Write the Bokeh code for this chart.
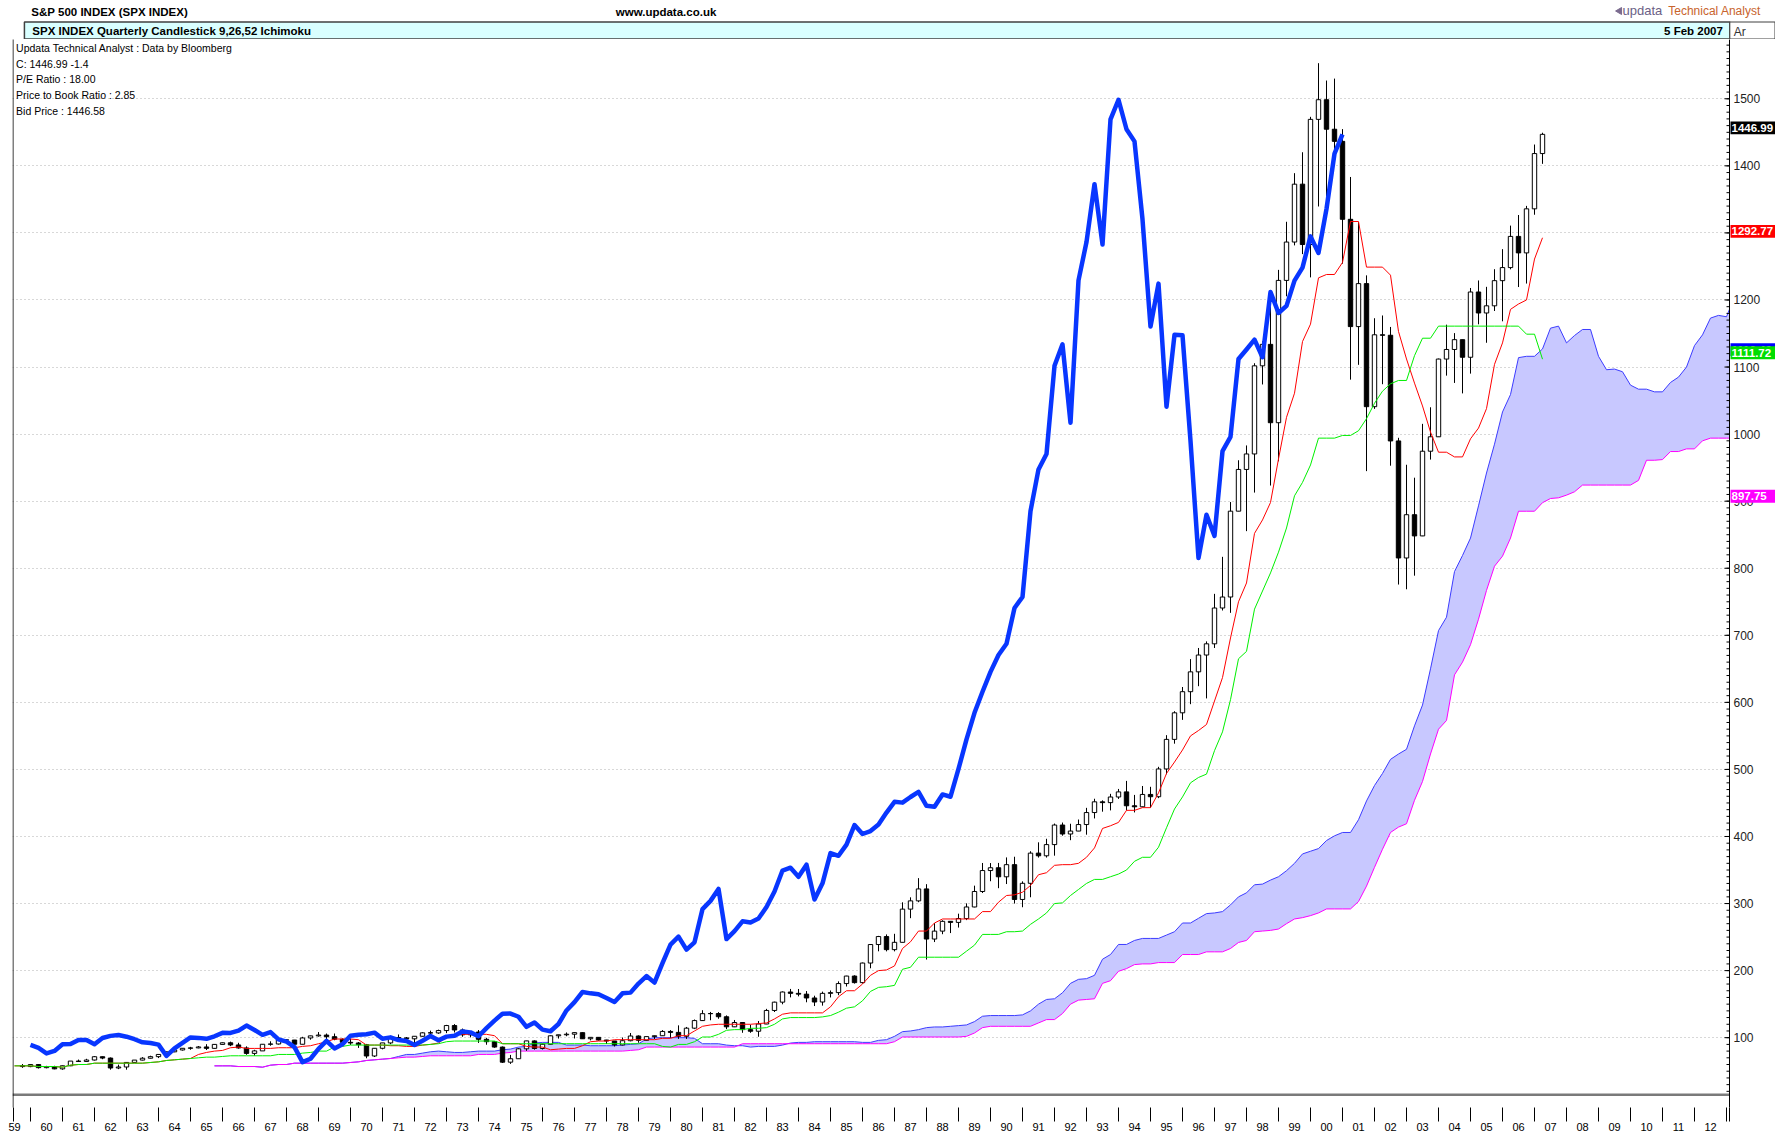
import numpy as np
from bokeh.plotting import figure
from bokeh.models import Range1d, FixedTicker
from bokeh.layouts import column
from bokeh.embed import file_html
from bokeh.resources import INLINE
from bokeh.core.properties import value

FONT = "Liberation Sans"

# ---- quarterly candles, 1959Q3 .. 2007Q1 (quarter index 2 .. 192, 1959Q1 = 0) ----
opens = [58.5,56.9,59.9,55.3,56.9,53.5,58.1,65.1,64.6,66.7,71.6,69.6,54.8,56.3,63.1,66.6,69.4,71.7,75.0,78.9,81.7,84.2,
84.8,86.2,84.1,90.0,92.4,89.2,84.7,76.6,80.3,90.2,90.6,96.7,96.5,90.2,99.6,102.7,103.9,101.5,97.7,93.1,92.1,89.6,72.7,84.2,
92.2,100.3,99.7,98.3,102.1,107.2,107.1,110.6,118.1,111.5,104.3,108.4,97.6,94.0,86.0,63.5,68.6,83.4,95.2,83.9,90.2,102.8,104.3,105.2,
107.5,98.4,100.5,96.5,95.1,89.2,95.5,102.5,96.1,101.6,102.9,109.3,107.9,102.1,114.2,125.5,135.8,136.0,131.2,116.2,122.6,112.0,109.6,120.4,
140.6,153.0,168.1,166.1,164.9,159.2,153.2,166.1,167.2,180.7,191.9,182.1,211.3,238.9,250.8,231.3,242.2,291.7,304.0,321.8,247.1,258.9,273.5,271.9,
277.7,294.9,318.0,349.2,353.4,339.9,358.0,306.1,330.2,375.2,371.2,387.9,417.1,403.7,408.1,417.8,435.7,451.7,450.5,458.9,466.5,445.8,444.3,462.7,
459.3,500.7,544.8,584.4,615.9,645.5,670.6,687.3,740.7,757.1,885.1,947.3,970.4,1101.8,1133.8,1017.0,1229.2,1286.4,1372.7,1282.7,1469.3,1498.6,1454.6,1436.5,
1320.3,1160.3,1224.4,1040.9,1148.1,1147.4,989.8,815.3,879.8,848.2,974.5,996.0,1111.9,1126.2,1140.8,1114.6,1211.9,1180.6,1191.3,1228.8,1248.3,1294.8,1270.2,1335.9,1418.3]
highs = [60.7,60.0,60.4,58.0,58.1,58.4,65.1,67.4,68.5,72.6,71.9,70.5,59.8,63.4,66.7,71.0,73.1,75.0,79.1,81.7,84.2,86.3,
87.6,90.3,90.0,92.8,94.1,92.4,87.1,82.0,90.3,94.6,97.6,97.6,96.6,101.3,102.9,108.4,106.2,106.2,98.9,98.3,93.5,90.7,84.3,92.2,
101.0,104.8,101.0,102.1,108.2,110.5,112.0,119.1,120.2,113.6,109.9,111.4,99.8,94.0,86.9,74.3,84.6,95.2,96.0,91.2,103.4,104.3,107.8,107.8,
107.9,101.0,101.0,96.8,95.1,100.3,107.0,103.4,101.6,103.0,111.3,111.3,118.4,116.0,127.1,141.0,138.4,138.1,133.2,126.4,123.0,119.3,124.9,143.0,
153.7,169.0,172.7,172.6,169.5,162.6,168.7,170.4,184.0,192.3,193.0,212.0,239.0,251.8,254.0,254.9,301.9,309.3,337.9,328.9,271.1,275.1,274.0,284.9,
300.3,326.7,360.5,360.4,360.6,368.8,369.8,333.1,378.0,391.3,396.6,419.3,420.8,419.0,425.3,442.7,456.3,453.9,463.6,470.9,482.9,462.0,475.3,474.1,
503.9,551.1,586.8,622.9,664.5,681.1,690.9,761.8,817.0,898.7,961.0,983.1,1105.7,1138.5,1190.6,1244.9,1316.6,1389.1,1420.3,1473.1,1553.1,1527.2,1530.1,1454.8,
1383.4,1316.0,1236.7,1172.8,1176.9,1159.8,994.5,954.3,935.0,1015.3,1040.0,1112.6,1163.2,1150.6,1140.8,1217.9,1229.1,1219.6,1245.9,1275.8,1310.9,1326.7,1340.3,1431.8,1449.4]
lows = [55.1,56.0,54.0,54.3,52.9,52.2,57.6,64.2,64.4,66.0,67.9,52.3,53.1,52.3,62.6,66.2,68.9,69.6,75.0,78.4,80.8,82.0,
84.2,81.6,83.9,89.6,87.4,83.6,74.5,73.2,80.2,88.0,89.8,91.5,87.7,90.1,97.0,101.6,95.8,96.2,89.5,89.2,84.8,69.3,71.2,82.6,
90.2,98.7,93.5,90.2,101.7,104.7,105.8,106.8,107.8,101.4,100.5,92.2,89.5,85.0,62.3,60.9,68.6,80.4,82.1,82.4,90.0,98.7,102.2,98.8,
98.4,96.0,95.7,90.7,86.9,88.5,94.6,92.5,96.1,98.1,102.5,99.9,98.2,98.2,112.8,124.9,126.0,128.2,112.8,115.8,107.3,107.3,101.4,120.2,
138.3,149.8,160.1,161.6,152.8,147.2,147.8,160.0,163.4,176.3,180.7,180.6,203.5,228.8,228.7,228.7,242.2,278.2,302.0,216.5,242.6,254.3,256.0,264.2,
275.3,294.4,315.7,333.3,322.9,329.1,300.0,294.5,309.4,368.6,368.6,371.4,401.2,394.5,408.0,402.7,426.9,437.0,438.9,456.0,438.9,435.9,443.7,442.9,
457.2,492.7,538.4,573.9,597.3,624.1,605.9,681.1,737.0,733.5,885.0,855.3,912.8,1074.0,923.3,959.4,1205.5,1281.4,1268.4,1233.7,1339.4,1339.4,1419.4,1254.1,
1081.2,1103.3,944.8,1037.6,1074.4,952.9,775.7,768.6,788.9,847.9,962.0,996.0,1087.2,1076.3,1060.7,1090.2,1163.7,1136.2,1183.6,1168.2,1245.7,1219.3,1224.5,1327.1,1403.0]
closes = [56.9,59.9,55.3,56.9,53.5,58.1,65.1,64.6,66.7,71.6,69.6,54.8,56.3,63.1,66.6,69.4,71.7,75.0,78.9,81.7,84.2,84.8,
86.2,84.1,90.0,92.4,89.2,84.7,76.6,80.3,90.2,90.6,96.7,96.5,90.2,99.6,102.7,103.9,101.5,97.7,93.1,92.1,89.6,72.7,84.2,92.2,
100.3,99.7,98.3,102.1,107.2,107.1,110.6,118.1,111.5,104.3,108.4,97.6,94.0,86.0,63.5,68.6,83.4,95.2,83.9,90.2,102.8,104.3,105.2,107.5,
98.4,100.5,96.5,95.1,89.2,95.5,102.5,96.1,101.6,102.9,109.3,107.9,102.1,114.2,125.5,135.8,136.0,131.2,116.2,122.6,112.0,109.6,120.4,140.6,
153.0,168.1,166.1,164.9,159.2,153.2,166.1,167.2,180.7,191.9,182.1,211.3,238.9,250.8,231.3,242.2,291.7,304.0,321.8,247.1,258.9,273.5,271.9,277.7,
294.9,318.0,349.2,353.4,339.9,358.0,306.1,330.2,375.2,371.2,387.9,417.1,403.7,408.1,417.8,435.7,451.7,450.5,458.9,466.5,445.8,444.3,462.7,459.3,
500.7,544.8,584.4,615.9,645.5,670.6,687.3,740.7,757.1,885.1,947.3,970.4,1101.8,1133.8,1017.0,1229.2,1286.4,1372.7,1282.7,1469.3,1498.6,1454.6,1436.5,1320.3,
1160.3,1224.4,1040.9,1148.1,1147.4,989.8,815.3,879.8,848.2,974.5,996.0,1111.9,1126.2,1140.8,1114.6,1211.9,1180.6,1191.3,1228.8,1248.3,1294.8,1270.2,1335.9,1418.3,1446.99]

# ---- Ichimoku lines, quarter index 1 .. 192 ----
tenkan = [58,58,58,57,57,57,56,59,60,60,62,62,62,62,62,62,62,63,64,66,67,68,69,75,78,80,81,85,86,84,84,84,84,85,85,85,87,88,91,94,
98,98,98,97,89,89,89,88,88,87,87,89,90,92,101,105,105,105,105,105,103,91,91,91,87,86,86,82,83,84,84,88,94,95,95,97,97,97,97,97,
97,99,99,103,103,110,117,119,120,120,120,120,120,121,122,128,135,137,137,137,137,137,146,161,170,170,180,193,200,201,207,233,243,259,259,271,277,277,277,277,
277,288,288,302,312,313,317,327,343,346,357,358,358,360,369,383,412,416,421,439,439,443,443,465,494,511,529,550,558,567,602,637,696,750,778,852,872,898,
963,1025,1061,1138,1164,1233,1238,1238,1256,1317,1317,1249,1249,1249,1237,1153,1112,1076,1042,1003,973,973,966,966,993,1009,1038,1104,1136,1186,1194,1200,1261,1292.77]
kijun = [58,58,58,57,57,57,56,59,60,60,62,62,62,62,62,62,62,63,64,66,67,68,69,70,71,71,72,73,73,73,73,73,73,75,75,75,77,78,80,80,
86,87,89,89,89,89,89,89,89,89,89,89,90,91,94,95,95,95,95,95,95,91,91,91,91,91,91,91,91,91,91,91,91,91,91,91,91,91,91,91,
91,87,86,90,90,94,101,101,105,111,112,112,114,114,115,120,128,130,130,130,130,131,133,138,144,146,155,169,175,176,178,202,205,220,220,220,220,220,220,229,
238,254,254,254,258,258,259,269,277,286,300,301,312,321,330,336,336,340,344,350,363,369,369,384,413,441,459,480,488,493,528,556,604,665,676,739,766,793,
824,860,908,928,954,994,994,994,998,998,1005,1023,1046,1064,1075,1080,1080,1117,1143,1143,1161,1161,1161,1161,1161,1161,1161,1161,1161,1161,1161,1149,1149,1111.72]
# leading spans, quarter index 26 .. 217
span_a = [58,58,58,57,57,57,56,59,60,60,62,62,62,62,62,62,62,63,64,66,67,68,69,72,75,75,77,79,80,79,78,78,79,80,80,80,82,83,86,87,
92,93,93,93,89,89,89,88,88,88,88,89,90,91,98,100,100,100,100,100,99,91,91,91,89,88,88,86,87,87,87,89,92,93,93,94,94,94,94,94,
94,93,93,96,97,102,109,110,112,115,116,116,117,118,119,124,132,133,133,133,133,134,140,150,157,158,167,181,187,188,193,217,224,239,239,245,248,248,248,253,
258,271,271,278,285,286,288,298,310,316,328,329,335,340,349,360,374,378,382,394,401,406,406,425,453,476,494,515,523,530,565,596,650,707,727,795,819,845,
893,942,985,1033,1059,1114,1116,1116,1127,1158,1161,1136,1147,1156,1156,1116,1096,1097,1093,1073,1067,1067,1063,1063,1077,1085,1100,1132,1148,1173,1177,1175,1205,1202]
span_b = [58,58,58,57,57,57,56,59,60,60,62,62,62,62,62,62,62,63,64,66,67,68,69,70,71,71,72,73,73,73,73,73,73,75,75,75,77,78,80,80,
80,80,80,80,80,80,80,80,80,80,80,80,81,82,86,86,86,86,86,86,86,86,86,86,86,86,91,91,91,91,91,91,91,91,91,91,91,91,91,91,
91,91,91,91,91,94,101,101,101,101,101,101,101,101,102,107,115,117,117,117,117,117,117,122,127,127,136,150,156,157,158,181,185,199,203,209,210,210,212,212,
212,224,224,224,228,228,228,233,242,245,258,259,260,262,270,277,279,282,286,292,292,292,292,303,326,354,381,406,414,419,454,482,523,560,573,641,660,686,
724,767,803,818,845,885,885,885,897.75,904,905,909,914,924,924,924,924,924,924,924,931,961,961,962,974,974,978,978,990,994,994,994,994,994]

# value tags on the price scale (close, tenkan, span A, kijun, span B), as read
tag_values = [1446.99, 1292.77, 1116.40, 1111.72, 897.75]
tag_colors = ["black", "#ff0000", "#0000ff", "#00dd00", "#ff00ff"]

years = list(range(1959, 2013))
year_labels = [f"{y % 100:02d}" for y in years]
price_ticks = [100, 200, 300, 400, 500, 600, 700, 800, 900, 1000, 1100, 1200, 1300, 1400, 1500]
price_labels = [str(v) for v in price_ticks]

O = np.array(opens); H = np.array(highs); L = np.array(lows); C = np.array(closes)
t = np.arange(2, 2 + len(C))                 # candle quarter index
t_line = np.arange(1, 1 + len(tenkan))       # tenkan / kijun quarter index
t_span = np.arange(26, 26 + len(span_a))     # cloud quarter index

W = 1775
X_LEFT = 0.75
X_AXIS = 215.375          # quarter index where the price scale sits (8 px per quarter)
PX = 1 / 8.0              # one pixel in quarter units
VPX = 1 / 0.6788          # one pixel in price units

# ---------- header strip (page pixels 0..39) ----------
h = figure(width=W, height=39, x_range=Range1d(0, W), y_range=Range1d(39, 0),
           output_backend="svg", toolbar_location=None, min_border=0,
           x_axis_location=None, y_axis_location=None)
h.outline_line_color = None
h.grid.visible = False
h.quad(left=[12], right=[1729], top=[21.5], bottom=[38.5], fill_color="#d9ffff", line_color="#404040", line_width=1.5)
h.quad(left=[1729], right=[1774.5], top=[21.5], bottom=[38.5], fill_color="white", line_color="#404040", line_width=1)
h.text(x=[19], y=[11.5], text=["S&P 500 INDEX (SPX INDEX)"], text_font=value(FONT), text_font_style="bold",
       text_font_size="11.5px", text_baseline="middle", text_color="black")
h.text(x=[658], y=[11.5], text=["www.updata.co.uk"], text_font=value(FONT), text_font_style="bold",
       text_font_size="11.5px", text_baseline="middle", text_align="center", text_color="black")
h.text(x=[20], y=[30.5], text=["SPX INDEX Quarterly Candlestick  9,26,52 Ichimoku"], text_font=value(FONT),
       text_font_style="bold", text_font_size="11.5px", text_baseline="middle", text_color="black")
h.text(x=[1722], y=[30.5], text=["5 Feb 2007"], text_font=value(FONT), text_font_style="bold",
       text_font_size="11.5px", text_baseline="middle", text_align="right", text_color="black")
h.text(x=[1733], y=[31], text=["Ar"], text_font=value(FONT), text_font_size="12px",
       text_baseline="middle", text_color="#333333")
h.patch(x=[1614, 1620, 1620], y=[10.5, 7, 14], fill_color="#7b6b8f", line_color="#7b6b8f")
h.text(x=[1621], y=[10], text=["updata"], text_font=value(FONT), text_font_size="13px",
       text_baseline="middle", text_color="#6b5f86")
h.text(x=[1667], y=[10], text=["Technical Analyst"], text_font=value(FONT), text_font_size="12px",
       text_baseline="middle", text_color="#c8632c")

# ---------- main chart (page pixels 39..1133); frame spans the full width ----------
p = figure(width=W, height=1094, x_range=Range1d(X_LEFT, 221.125), y_range=Range1d(-4.1, 1588.4),
           output_backend="svg", toolbar_location=None, y_axis_location=None,
           min_border_left=12, min_border_right=0, min_border_top=0, min_border_bottom=13)
p.outline_line_color = None
p.xgrid.visible = False
p.ygrid.ticker = FixedTicker(ticks=price_ticks)
p.ygrid.grid_line_color = "#b0b0b0"
p.ygrid.grid_line_dash = "1 3"

label_ticks = [4 * (y - 1959) + 1 for y in years]
sep_ticks = [4 * (y - 1959) - 1 for y in years] + [4 * (2013 - 1959) - 1, X_LEFT + 0.5 * PX, X_AXIS]
xa = p.xaxis[0]
xa.ticker = FixedTicker(ticks=label_ticks, minor_ticks=sep_ticks)
xa.major_label_overrides = {k: v for k, v in zip(label_ticks, year_labels)}
xa.axis_line_color = None
xa.major_tick_out = 0; xa.major_tick_in = 0
xa.minor_tick_out = 14; xa.minor_tick_in = 0
xa.minor_tick_line_color = "black"
xa.major_label_standoff = 1
xa.major_label_text_font = FONT
xa.major_label_text_font_size = "11px"
xa.major_label_text_color = "black"

# cloud
p.varea(x=t_span, y1=span_a, y2=span_b, fill_color="#c8c8ff")
p.line(t_span, span_a, line_color="#3c3cff", line_width=1)
p.line(t_span, span_b, line_color="#ff00ff", line_width=1)

# candles
up = C >= O
p.segment(x0=t, y0=L, x1=t, y1=H, line_color="black", line_width=1)
p.vbar(x=t[up], width=0.55, top=C[up], bottom=O[up], fill_color="white", line_color="black", line_width=1)
p.vbar(x=t[~up], width=0.55, top=O[~up], bottom=C[~up], fill_color="black", line_color="black", line_width=1)

p.line(t_line, tenkan, line_color="#ff0000", line_width=1)
p.line(t_line, kijun, line_color="#00f000", line_width=1)
# lagging close, drawn 25 quarters back
p.line(t[1:-25], C[26:], line_color="#0836ff", line_width=4.5, line_join="round")

# bottom rule of the price pane and left frame edge
p.segment(x0=[X_LEFT], y0=[15], x1=[X_AXIS], y1=[15], line_color="#7a7a7a", line_width=2.5)
p.segment(x0=[X_LEFT + 0.5 * PX], y0=[-10], x1=[X_LEFT + 0.5 * PX], y1=[1600], line_color="black", line_width=1)

# ---------- price scale strip on the right ----------
p.quad(left=[X_AXIS], right=[222], bottom=[-10], top=[1600], fill_color="white", line_color=None)
p.segment(x0=[X_AXIS], y0=[-10], x1=[X_AXIS], y1=[1600], line_color="black", line_width=1)
minor = [v for v in range(20, 1590, 10)]
p.segment(x0=[X_AXIS - 3 * PX] * len(minor), y0=minor, x1=[X_AXIS] * len(minor), y1=minor,
          line_color="black", line_width=1)
p.segment(x0=[X_AXIS - 5 * PX] * len(price_ticks), y0=price_ticks, x1=[X_AXIS] * len(price_ticks),
          y1=price_ticks, line_color="black", line_width=1)
p.text(x=[X_AXIS + 4 * PX] * len(price_ticks), y=price_ticks, text=price_labels, text_font=value(FONT),
       text_font_size="12px", text_baseline="middle", text_color="#222222")

for val, col in zip(tag_values, tag_colors):
    p.quad(left=[X_AXIS + 1 * PX], right=[222], bottom=[val], top=[val + 13 * VPX],
           fill_color=col, line_color=None)
    p.text(x=[X_AXIS + 2 * PX], y=[val + 6.5 * VPX], text=[f"{val:.2f}"], text_font=value(FONT),
           text_font_style="bold", text_font_size="11.5px", text_baseline="middle", text_color="white")

info = ["Updata Technical Analyst : Data by Bloomberg", "C: 1446.99  -1.4", "P/E Ratio : 18.00",
        "Price to Book Ratio : 2.85", "Bid Price : 1446.58"]
p.text(x=[1.2] * 5, y=[1575.9, 1552.5, 1529.2, 1505.9, 1482.3], text=info, text_font=value(FONT),
       text_font_size="10.5px", text_baseline="middle", text_color="black")

open("out.html", "w").write(file_html(column(h, p), INLINE))
